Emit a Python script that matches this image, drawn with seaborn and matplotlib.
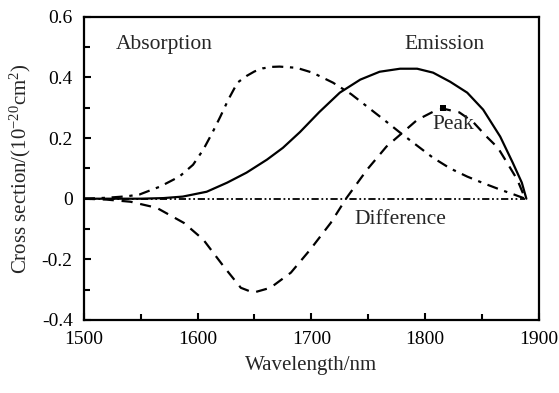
import matplotlib
matplotlib.use("Agg")
import matplotlib.pyplot as plt
import seaborn as sns
from matplotlib.ticker import MultipleLocator

# Absorption cross section (dash-dot)
abs_wl = [1500, 1520, 1538, 1549, 1567, 1584, 1596, 1605, 1613, 1620, 1627, 1635,
          1643, 1650, 1657, 1665, 1672, 1687, 1701, 1719, 1735, 1749, 1764, 1778,
          1793, 1807, 1822, 1837, 1852, 1866, 1878, 1888]
abs_val = [0.0, 0.003, 0.008, 0.014, 0.04, 0.073, 0.112, 0.162, 0.218, 0.271, 0.327, 0.383,
           0.405, 0.42, 0.43, 0.435, 0.436, 0.432, 0.416, 0.383, 0.345, 0.304, 0.26, 0.218,
           0.175, 0.135, 0.1, 0.073, 0.05, 0.03, 0.014, 0.0]

# Emission cross section (solid)
emi_wl = [1500, 1550, 1570, 1587, 1608, 1626, 1643, 1661, 1675, 1690, 1707, 1725,
          1743, 1760, 1778, 1793, 1807, 1822, 1837, 1851, 1866, 1877, 1885, 1889]
emi_val = [0.0, 0.0, 0.002, 0.007, 0.023, 0.053, 0.086, 0.129, 0.168, 0.22, 0.286, 0.35,
           0.393, 0.419, 0.429, 0.429, 0.416, 0.386, 0.35, 0.294, 0.205, 0.119, 0.053, 0.0]

# Gain difference (dashed)
dif_wl = [1500, 1520, 1541, 1564, 1588, 1605, 1623, 1638, 1649, 1664, 1682, 1699,
          1717, 1731, 1749, 1766, 1778, 1793, 1807, 1816, 1830, 1842, 1854, 1864,
          1872, 1881, 1888]
dif_val = [0.0, -0.003, -0.01, -0.03, -0.08, -0.135, -0.224, -0.294, -0.31, -0.294, -0.244, -0.168,
           -0.08, 0.003, 0.096, 0.172, 0.211, 0.26, 0.287, 0.297, 0.285, 0.254, 0.205, 0.168,
           0.119, 0.063, 0.0]

# Zero baseline (dash-dot-dot)
zero_wl = [1500, 1888]
zero_val = [0.0, 0.0]

peak_wl = [1816]
peak_val = [0.30]

labels = ["Absorption", "Emission", "Peak", "Difference"]
label_x = [1528, 1782, 1806, 1738]
label_y = [0.51, 0.51, 0.245, -0.07]

sns.set_style("ticks")
plt.rcParams['font.family'] = ['Liberation Serif', 'DejaVu Serif']
plt.rcParams['mathtext.fontset'] = 'custom'
plt.rcParams['mathtext.rm'] = 'Liberation Serif'
plt.rcParams['mathtext.it'] = 'Liberation Serif:italic'
plt.rcParams['mathtext.bf'] = 'Liberation Serif:bold'

fig = plt.figure(figsize=(5.59, 3.93), dpi=100)
ax = fig.add_axes([0.150, 0.186, 0.814, 0.771])

lw = 1.6
sns.lineplot(x=zero_wl, y=zero_val, ax=ax, color="black", lw=1.3,
             linestyle=(0, (4, 1.5, 1, 1.5, 1, 1.5)))
sns.lineplot(x=abs_wl, y=abs_val, ax=ax, color="black", lw=lw,
             linestyle=(0, (5, 3, 1.5, 3)))
sns.lineplot(x=emi_wl, y=emi_val, ax=ax, color="black", lw=lw)
sns.lineplot(x=dif_wl, y=dif_val, ax=ax, color="black", lw=lw,
             linestyle=(0, (5, 3.5)))
sns.scatterplot(x=peak_wl, y=peak_val, ax=ax, color="black", marker="s", s=14, linewidth=0)

for t, x, y in zip(labels, label_x, label_y):
    ax.text(x, y, t, fontsize=15.5, va="center", ha="left")

ax.set_xlim(1500, 1900)
ax.set_ylim(-0.4, 0.6)
ax.xaxis.set_minor_locator(MultipleLocator(50))
ax.yaxis.set_minor_locator(MultipleLocator(0.1))
ax.set_xticks([1500, 1600, 1700, 1800, 1900])
ax.set_xticklabels(["1500", "1600", "1700", "1800", "1900"])
ax.set_yticks([-0.4, -0.2, 0, 0.2, 0.4, 0.6])
ax.set_yticklabels(["-0.4", "-0.2", "0", "0.2", "0.4", "0.6"])
ax.tick_params(which="both", direction="in", top=False, right=False, width=1.5, labelsize=14,
               pad=8, colors="black")
ax.tick_params(which="major", length=5)
ax.tick_params(which="minor", length=4)
for s in ax.spines.values():
    s.set_linewidth(1.6)
    s.set_color("black")

ax.set_xlabel("Wavelength/nm", fontsize=15, labelpad=6)
ax.set_ylabel("Cross section/(10$^{-20}$cm$^2$)", fontsize=15, labelpad=6)

fig.savefig("out.png", dpi=100)
